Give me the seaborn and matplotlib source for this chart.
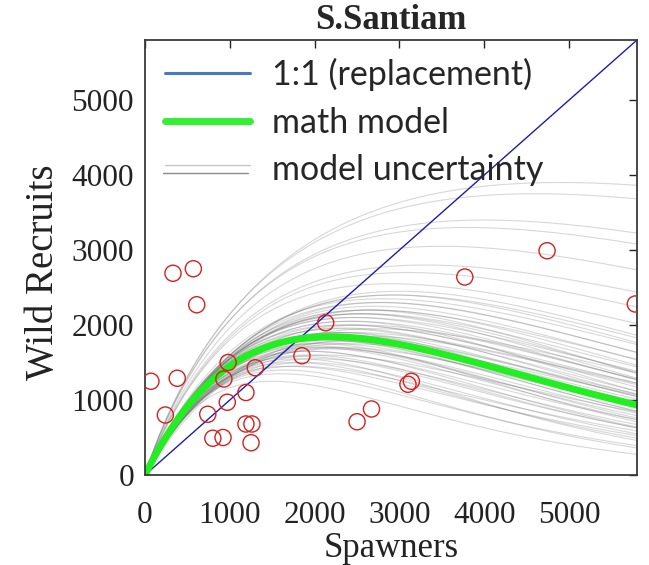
import numpy as np
import pandas as pd
import matplotlib
matplotlib.use("Agg")
import matplotlib.pyplot as plt
import seaborn as sns
from matplotlib.lines import Line2D
from matplotlib.legend_handler import HandlerBase

# ---------------- data ----------------
spawners = [70, 240, 330, 380, 570, 610, 740, 800, 920, 930, 980, 970, 1190, 1190,
            1260, 1250, 1300, 1850, 2130, 2500, 2670, 3100, 3140, 3770, 4740, 5780]
recruits = [1250, 800, 2690, 1290, 2750, 2270, 810, 490, 500, 1280, 1500, 970, 1100, 680,
            680, 430, 1430, 1590, 2030, 710, 880, 1210, 1250, 2640, 2990, 2280]

# math model (Ricker): peak location and height
model_peak_S = 2180
model_peak_R = 1844

# model uncertainty curves: peak spawners, peak recruits, shape exponent
unc_peak_S = [4900, 4600, 4000, 3800, 3500, 3300, 3100, 2900,
              1500, 1600, 1650, 1700, 1750, 1800, 1850, 1900, 1900, 1950, 2000, 2000,
              2050, 2100, 2100, 2150, 2200, 2200, 2250, 2250, 2300, 2300, 2350, 2350,
              2400, 2400, 2450, 2450, 2500, 2500, 2550, 2600, 2600, 2650, 2700, 2700,
              2750, 2800, 2800, 2900, 2950, 3000, 2000, 2100, 2200, 2300, 2400, 2500,
              2600, 1800, 1900, 2700, 2350, 2150, 2450, 2550]
unc_peak_R = [3900, 3750, 3400, 3300, 3050, 2800, 2700, 2550,
              1250, 1350, 1400, 1450, 1500, 1550, 1580, 1600, 1650, 1650, 1700, 1720,
              1750, 1760, 1800, 1800, 1820, 1850, 1870, 1900, 1900, 1950, 1960, 2000,
              2000, 2050, 2050, 2100, 2100, 2150, 2150, 2150, 2200, 2200, 2250, 2200,
              2300, 2300, 2350, 2400, 2400, 2450, 1550, 1600, 1680, 1700, 1750, 1800,
              1850, 1450, 1500, 1950, 1780, 1700, 1900, 2000]
unc_shape = [0.65, 0.65, 0.7, 0.7, 0.75, 0.75, 0.8, 0.8,
             1.0, 0.95, 1.05, 0.9, 1.0, 1.1, 0.95, 1.0, 0.9, 1.05, 1.0, 0.95,
             1.1, 0.9, 1.0, 1.05, 0.95, 1.0, 0.9, 1.1, 1.0, 0.95, 1.05, 0.9,
             1.0, 1.1, 0.95, 1.0, 0.9, 1.05, 1.0, 0.95, 1.1, 0.9, 1.0, 1.05,
             0.95, 1.0, 0.9, 1.0, 0.95, 1.0, 1.0, 0.9, 1.05, 1.0, 0.95, 1.1,
             1.0, 0.9, 1.05, 0.95, 1.0, 1.1, 0.9, 1.0]

x_ticks = [0, 1000, 2000, 3000, 4000, 5000]
y_ticks = [0, 1000, 2000, 3000, 4000, 5000]
axis_max = 5800


def curve(S, sp, rp, g):
    r = S / sp
    return rp * r * np.exp((1.0 - r ** g) / g)


S = np.linspace(0, axis_max, 300)
rows = []
for i, (sp, rp, g) in enumerate(zip(unc_peak_S, unc_peak_R, unc_shape)):
    for s, v in zip(S, curve(S, sp, rp, g)):
        rows.append((i, s, v))
unc_df = pd.DataFrame(rows, columns=["curve", "S", "R"])
model_df = pd.DataFrame({"S": S, "R": curve(S, model_peak_S, model_peak_R, 1.0)})
line_df = pd.DataFrame({"S": [0, axis_max], "R": [0, axis_max]})
pts_df = pd.DataFrame({"S": spawners, "R": recruits})

# ---------------- plot ----------------
sns.set_theme(style="white")
plt.rcParams["font.family"] = ["Liberation Serif", "DejaVu Serif"]

fig = plt.figure(figsize=(6.49, 5.65), dpi=100)
ax = fig.add_axes([145 / 649, 1 - 475 / 565, (637 - 145) / 649, (475 - 40) / 565])

sns.lineplot(data=unc_df, x="S", y="R", units="curve", estimator=None, ax=ax,
             color="0.4", alpha=0.26, lw=0.8)
sns.lineplot(data=line_df, x="S", y="R", ax=ax, color="#1c1cb0", lw=1.0)
sns.lineplot(data=model_df, x="S", y="R", ax=ax, color="#22ee22", lw=5)
sns.scatterplot(data=pts_df, x="S", y="R", ax=ax, s=135, facecolor="none",
                edgecolor="#d42020", linewidth=1.0, zorder=5)

ax.set_xlim(0, axis_max)
ax.set_ylim(0, axis_max)
ax.set_xticks(x_ticks)
ax.set_yticks(y_ticks)
ax.tick_params(direction="in", length=6, width=1, top=True, right=True,
               labelsize=22.5, colors="#222222")
ax.tick_params(axis="x", pad=19)
ax.tick_params(axis="y", pad=8)
for sp in ax.spines.values():
    sp.set_color("#3a3a3a")
    sp.set_linewidth(1.3)

ax.set_xlabel("Spawners", fontsize=25, color="#222222", labelpad=1)
ax.set_ylabel("Wild Recruits", fontsize=28, color="#222222")
ax.yaxis.set_label_coords(-0.168, 0.467)
ax.set_title("S.Santiam", fontsize=25, fontweight="bold", pad=8)


class DoubleLineHandler(HandlerBase):
    def create_artists(self, legend, orig_handle, xdescent, ydescent, width,
                       height, fontsize, trans):
        y1 = -ydescent + height * 0.62
        y2 = -ydescent + height * 0.30
        l1 = Line2D([-xdescent, -xdescent + width], [y1, y1], color="0.78", lw=1.0,
                    transform=trans)
        l2 = Line2D([-xdescent - 2, -xdescent + width - 2], [y2, y2], color="0.55",
                    lw=1.0, transform=trans)
        return [l1, l2]


h_blue = Line2D([], [], color="#4a78c8", lw=2.2)
h_green = Line2D([], [], color="#33f033", lw=5)
h_grey = Line2D([], [], color="0.6", lw=1)
leg = ax.legend([h_blue, h_green, h_grey],
                ["1:1 (replacement)", "math model", "model uncertainty"],
                handler_map={h_grey: DoubleLineHandler()},
                loc="upper left", bbox_to_anchor=(0.0, 1.005), frameon=False,
                prop={"family": ["Lato", "DejaVu Sans"], "size": 24.5},
                handlelength=2.5, handletextpad=0.64, labelspacing=0.45,
                borderpad=0.2, borderaxespad=0.4)

fig.savefig("out.png", dpi=100)
